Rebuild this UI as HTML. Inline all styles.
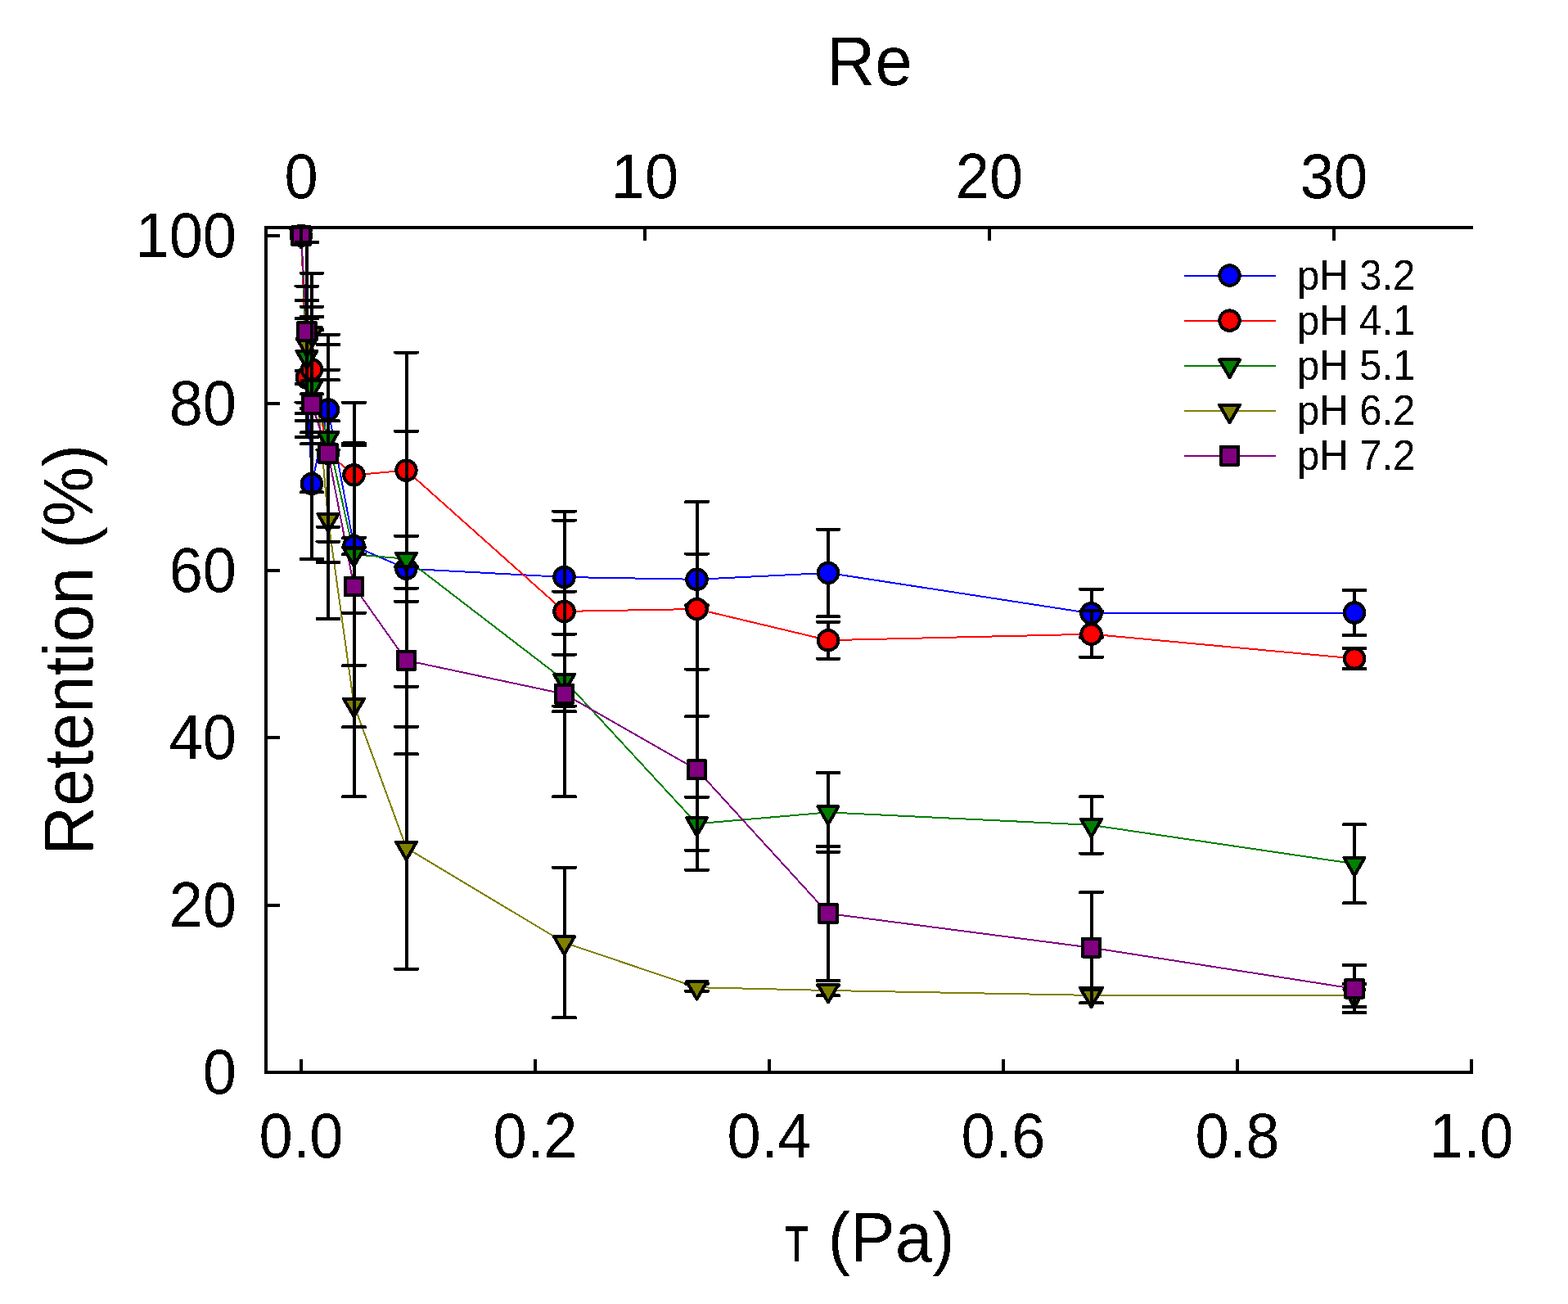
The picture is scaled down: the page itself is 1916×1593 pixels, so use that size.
<!DOCTYPE html>
<html><head><meta charset="utf-8"><title>Retention vs shear stress</title>
<style>
html,body{margin:0;padding:0;background:#fff;}
svg{display:block;}
#data,#axes,#legend{shape-rendering:crispEdges;}
text{font-family:"Liberation Sans",Arial,sans-serif;fill:#000;}
.tk{font-size:74px;}
.ti{font-size:82px;}
.lg{font-size:49px;}
text.tau{font-family:"WenQuanYi Zen Hei","Liberation Sans",sans-serif;}
.m circle,.m rect,.m path:not(.ln){stroke:#000;stroke-width:4;stroke-linejoin:round;}
.m path.eb{stroke-width:4;fill:none;}
path.ln{fill:none;stroke-width:2;}
.m path.cap{stroke-width:4;stroke-linecap:round;fill:none;}
</style></head>
<body>
<svg width="1916" height="1593" viewBox="0 0 1916 1593">
<rect width="1916" height="1593" fill="#fff"/>
<g id="data">
<path d="M368 288 L375 461 L381 591 L401 500.5 L432.5 667 L496.5 694.7 L689.5 705 L851.5 707.8 L1012 699.9 L1333.5 749.3 L1655 748.5" class="ln" style="stroke:#0000FF"/>
<path d="M368 288 L375 461.5 L381 451.6 L401 554 L432.5 580.3 L496.5 574.6 L689.5 746.9 L851.5 744 L1012 782.2 L1333.5 774.65 L1655 804.5" class="ln" style="stroke:#FF0000"/>
<path d="M368 288 L375 436 L381 472.7 L401 535 L432.5 677.2 L496.5 682.8 L689.5 831 L851.5 1006.3 L1012 992.4 L1333.5 1007.9 L1655 1055.2" class="ln" style="stroke:#008000"/>
<path d="M368 288 L375 420.5 L381 407.5 L401 635.1 L432.5 860.9 L496.5 1035.8 L689.5 1151.5 L851.5 1206.2 L1012 1210 L1333.5 1215.9 L1655 1216" class="ln" style="stroke:#808000"/>
<path d="M368 288 L375 405 L381 494.1 L401 554 L432.5 716.3 L496.5 806.8 L689.5 847.8 L851.5 940.2 L1012 1116 L1333.5 1157.7 L1655 1207.9" class="ln" style="stroke:#800080"/>
<g class="m"><circle cx="368" cy="288" r="12.25" fill="#0000FF"/><path d="M375 453V469" class="eb"/><path d="M361.5 453H388.5M361.5 469H388.5" class="cap"/><circle cx="375" cy="461" r="12.25" fill="#0000FF"/><path d="M381 499V683" class="eb"/><path d="M367.5 499H394.5M367.5 683H394.5" class="cap"/><circle cx="381" cy="591" r="12.25" fill="#0000FF"/><path d="M401 451.5V549.5" class="eb"/><path d="M387.5 451.5H414.5M387.5 549.5H414.5" class="cap"/><circle cx="401" cy="500.5" r="12.25" fill="#0000FF"/><path d="M432.5 657V677" class="eb"/><path d="M419 657H446M419 677H446" class="cap"/><circle cx="432.5" cy="667" r="12.25" fill="#0000FF"/><path d="M496.5 654.7V734.7" class="eb"/><path d="M483 654.7H510M483 734.7H510" class="cap"/><circle cx="496.5" cy="694.7" r="12.25" fill="#0000FF"/><path d="M689.5 635.5V774.5" class="eb"/><path d="M676 635.5H703M676 774.5H703" class="cap"/><circle cx="689.5" cy="705" r="12.25" fill="#0000FF"/><path d="M851.5 676.5V739.1" class="eb"/><path d="M838 676.5H865M838 739.1H865" class="cap"/><circle cx="851.5" cy="707.8" r="12.25" fill="#0000FF"/><path d="M1012 646.6V753.2" class="eb"/><path d="M998.5 646.6H1025.5M998.5 753.2H1025.5" class="cap"/><circle cx="1012" cy="699.9" r="12.25" fill="#0000FF"/><path d="M1333.5 719.8V778.8" class="eb"/><path d="M1320 719.8H1347M1320 778.8H1347" class="cap"/><circle cx="1333.5" cy="749.3" r="12.25" fill="#0000FF"/><path d="M1655 721.1V775.9" class="eb"/><path d="M1641.5 721.1H1668.5M1641.5 775.9H1668.5" class="cap"/><circle cx="1655" cy="748.5" r="12.25" fill="#0000FF"/></g>
<g class="m"><circle cx="368" cy="288" r="12.25" fill="#FF0000"/><path d="M375 389V534" class="eb"/><path d="M361.5 389H388.5M361.5 534H388.5" class="cap"/><circle cx="375" cy="461.5" r="12.25" fill="#FF0000"/><path d="M381 374.8V528.4" class="eb"/><path d="M367.5 374.8H394.5M367.5 528.4H394.5" class="cap"/><circle cx="381" cy="451.6" r="12.25" fill="#FF0000"/><path d="M401 421V687" class="eb"/><path d="M387.5 421H414.5M387.5 687H414.5" class="cap"/><circle cx="401" cy="554" r="12.25" fill="#FF0000"/><path d="M432.5 491.7V668.9" class="eb"/><path d="M419 491.7H446M419 668.9H446" class="cap"/><circle cx="432.5" cy="580.3" r="12.25" fill="#FF0000"/><path d="M496.5 430.6V718.6" class="eb"/><path d="M483 430.6H510M483 718.6H510" class="cap"/><circle cx="496.5" cy="574.6" r="12.25" fill="#FF0000"/><path d="M689.5 624.5V869.3" class="eb"/><path d="M676 624.5H703M676 869.3H703" class="cap"/><circle cx="689.5" cy="746.9" r="12.25" fill="#FF0000"/><path d="M851.5 613V875" class="eb"/><path d="M838 613H865M838 875H865" class="cap"/><circle cx="851.5" cy="744" r="12.25" fill="#FF0000"/><path d="M1012 759.8V804.6" class="eb"/><path d="M998.5 759.8H1025.5M998.5 804.6H1025.5" class="cap"/><circle cx="1012" cy="782.2" r="12.25" fill="#FF0000"/><path d="M1333.5 746.4V802.9" class="eb"/><path d="M1320 746.4H1347M1320 802.9H1347" class="cap"/><circle cx="1333.5" cy="774.65" r="12.25" fill="#FF0000"/><path d="M1655 792V817" class="eb"/><path d="M1641.5 792H1668.5M1641.5 817H1668.5" class="cap"/><circle cx="1655" cy="804.5" r="12.25" fill="#FF0000"/></g>
<g class="m"><path d="M355.5 280.78H380.5L368 302.43Z" fill="#008000"/><path d="M375 367V505" class="eb"/><path d="M361.5 367H388.5M361.5 505H388.5" class="cap"/><path d="M362.5 428.78H387.5L375 450.43Z" fill="#008000"/><path d="M381 403V542.4" class="eb"/><path d="M367.5 403H394.5M367.5 542.4H394.5" class="cap"/><path d="M368.5 465.48H393.5L381 487.13Z" fill="#008000"/><path d="M401 408.5V661.5" class="eb"/><path d="M387.5 408.5H414.5M387.5 661.5H414.5" class="cap"/><path d="M388.5 527.78H413.5L401 549.43Z" fill="#008000"/><path d="M432.5 541.4V813" class="eb"/><path d="M419 541.4H446M419 813H446" class="cap"/><path d="M420 669.98H445L432.5 691.63Z" fill="#008000"/><path d="M496.5 526.8V838.8" class="eb"/><path d="M483 526.8H510M483 838.8H510" class="cap"/><path d="M484 675.58H509L496.5 697.23Z" fill="#008000"/><path d="M689.5 799.5V862.5" class="eb"/><path d="M676 799.5H703M676 862.5H703" class="cap"/><path d="M677 823.78H702L689.5 845.43Z" fill="#008000"/><path d="M851.5 973.8V1038.8" class="eb"/><path d="M838 973.8H865M838 1038.8H865" class="cap"/><path d="M839 999.08H864L851.5 1020.73Z" fill="#008000"/><path d="M1012 944V1040.8" class="eb"/><path d="M998.5 944H1025.5M998.5 1040.8H1025.5" class="cap"/><path d="M999.5 985.18H1024.5L1012 1006.83Z" fill="#008000"/><path d="M1333.5 973.2V1042.6" class="eb"/><path d="M1320 973.2H1347M1320 1042.6H1347" class="cap"/><path d="M1321 1000.68H1346L1333.5 1022.33Z" fill="#008000"/><path d="M1655 1007.2V1103.2" class="eb"/><path d="M1641.5 1007.2H1668.5M1641.5 1103.2H1668.5" class="cap"/><path d="M1642.5 1047.98H1667.5L1655 1069.63Z" fill="#008000"/></g>
<g class="m"><path d="M355.5 280.78H380.5L368 302.43Z" fill="#808000"/><path d="M375 349.5V491.5" class="eb"/><path d="M361.5 349.5H388.5M361.5 491.5H388.5" class="cap"/><path d="M362.5 413.28H387.5L375 434.93Z" fill="#808000"/><path d="M381 333.8V481.2" class="eb"/><path d="M367.5 333.8H394.5M367.5 481.2H394.5" class="cap"/><path d="M368.5 400.28H393.5L381 421.93Z" fill="#808000"/><path d="M401 514.3V755.9" class="eb"/><path d="M387.5 514.3H414.5M387.5 755.9H414.5" class="cap"/><path d="M388.5 627.88H413.5L401 649.53Z" fill="#808000"/><path d="M432.5 748.7V973.1" class="eb"/><path d="M419 748.7H446M419 973.1H446" class="cap"/><path d="M420 853.68H445L432.5 875.33Z" fill="#808000"/><path d="M496.5 887.8V1183.8" class="eb"/><path d="M483 887.8H510M483 1183.8H510" class="cap"/><path d="M484 1028.58H509L496.5 1050.23Z" fill="#808000"/><path d="M689.5 1059.7V1243.3" class="eb"/><path d="M676 1059.7H703M676 1243.3H703" class="cap"/><path d="M677 1144.28H702L689.5 1165.93Z" fill="#808000"/><path d="M851.5 1201.7V1210.7" class="eb"/><path d="M838 1201.7H865M838 1210.7H865" class="cap"/><path d="M839 1198.98H864L851.5 1220.63Z" fill="#808000"/><path d="M1012 1203.6V1216.4" class="eb"/><path d="M998.5 1203.6H1025.5M998.5 1216.4H1025.5" class="cap"/><path d="M999.5 1202.78H1024.5L1012 1224.43Z" fill="#808000"/><path d="M1333.5 1206.5V1225.3" class="eb"/><path d="M1320 1206.5H1347M1320 1225.3H1347" class="cap"/><path d="M1321 1208.68H1346L1333.5 1230.33Z" fill="#808000"/><path d="M1655 1202V1230" class="eb"/><path d="M1641.5 1202H1668.5M1641.5 1230H1668.5" class="cap"/><path d="M1642.5 1208.78H1667.5L1655 1230.43Z" fill="#808000"/></g>
<g class="m"><rect x="357.2" y="277.2" width="21.6" height="21.6" fill="#800080"/><path d="M375 296.1V513.9" class="eb"/><path d="M361.5 296.1H388.5M361.5 513.9H388.5" class="cap"/><rect x="364.2" y="394.2" width="21.6" height="21.6" fill="#800080"/><path d="M381 387V601.2" class="eb"/><path d="M367.5 387H394.5M367.5 601.2H394.5" class="cap"/><rect x="370.2" y="483.3" width="21.6" height="21.6" fill="#800080"/><path d="M401 464.2V643.8" class="eb"/><path d="M387.5 464.2H414.5M387.5 643.8H414.5" class="cap"/><rect x="390.2" y="543.2" width="21.6" height="21.6" fill="#800080"/><path d="M432.5 544.45V888.15" class="eb"/><path d="M419 544.45H446M419 888.15H446" class="cap"/><rect x="421.7" y="705.5" width="21.6" height="21.6" fill="#800080"/><path d="M496.5 692.3V921.3" class="eb"/><path d="M483 692.3H510M483 921.3H510" class="cap"/><rect x="485.7" y="796" width="21.6" height="21.6" fill="#800080"/><path d="M689.5 722.5V973.1" class="eb"/><path d="M676 722.5H703M676 973.1H703" class="cap"/><rect x="678.7" y="837" width="21.6" height="21.6" fill="#800080"/><path d="M851.5 817.5V1062.9" class="eb"/><path d="M838 817.5H865M838 1062.9H865" class="cap"/><rect x="840.7" y="929.4" width="21.6" height="21.6" fill="#800080"/><path d="M1012 1034V1198" class="eb"/><path d="M998.5 1034H1025.5M998.5 1198H1025.5" class="cap"/><rect x="1001.2" y="1105.2" width="21.6" height="21.6" fill="#800080"/><path d="M1333.5 1090V1225.4" class="eb"/><path d="M1320 1090H1347M1320 1225.4H1347" class="cap"/><rect x="1322.7" y="1146.9" width="21.6" height="21.6" fill="#800080"/><path d="M1655 1178.9V1236.9" class="eb"/><path d="M1641.5 1178.9H1668.5M1641.5 1236.9H1668.5" class="cap"/><rect x="1644.2" y="1197.1" width="21.6" height="21.6" fill="#800080"/></g>
</g>
<g id="axes" fill="none" stroke="#000" stroke-width="4">
<path d="M325 278V1310M325 278H1798M325 1310H1798" stroke-linecap="square"/>
<path d="M327 1106H342M327 901H342M327 697H342M327 493H342M327 288H342M368 1308V1294M654 1308V1294M940 1308V1294M1226 1308V1294M1512 1308V1294M1798 1308V1294M368 280V294M788 280V294M1209 280V294M1630 280V294"/>
</g>
<defs><filter id="th" x="-0.1" y="-0.1" width="1.2" height="1.2" color-interpolation-filters="sRGB"><feComponentTransfer><feFuncA type="discrete" tableValues="0 1"/></feComponentTransfer></filter></defs>
<g id="labels" filter="url(#th)">
<text transform="translate(289 1336) scale(1 1.04)" text-anchor="end" class="tk">0</text>
<text transform="translate(289 1132) scale(1 1.04)" text-anchor="end" class="tk">20</text>
<text transform="translate(289 927) scale(1 1.04)" text-anchor="end" class="tk">40</text>
<text transform="translate(289 723) scale(1 1.04)" text-anchor="end" class="tk">60</text>
<text transform="translate(289 519) scale(1 1.04)" text-anchor="end" class="tk">80</text>
<text transform="translate(289 314) scale(1 1.04)" text-anchor="end" class="tk">100</text>
<text transform="translate(368 1414) scale(1 1.04)" text-anchor="middle" class="tk">0.0</text>
<text transform="translate(654 1414) scale(1 1.04)" text-anchor="middle" class="tk">0.2</text>
<text transform="translate(940 1414) scale(1 1.04)" text-anchor="middle" class="tk">0.4</text>
<text transform="translate(1226 1414) scale(1 1.04)" text-anchor="middle" class="tk">0.6</text>
<text transform="translate(1512 1414) scale(1 1.04)" text-anchor="middle" class="tk">0.8</text>
<text transform="translate(1798 1414) scale(1 1.04)" text-anchor="middle" class="tk">1.0</text>
<text transform="translate(368 242) scale(1 1.04)" text-anchor="middle" class="tk">0</text>
<text transform="translate(788 242) scale(1 1.04)" text-anchor="middle" class="tk">10</text>
<text transform="translate(1209 242) scale(1 1.04)" text-anchor="middle" class="tk">20</text>
<text transform="translate(1630 242) scale(1 1.04)" text-anchor="middle" class="tk">30</text>
<text transform="translate(1062.5 104) scale(1 1.05)" text-anchor="middle" class="ti">Re</text>
<text transform="translate(959 1541) scale(0.76 1.05)" class="ti tau">τ</text><text transform="translate(1011.7 1541) scale(1 1.05)" class="ti"> (Pa)</text>
<text transform="translate(113 793.5) rotate(-90) scale(1 1.05)" text-anchor="middle" class="ti">Retention (%)</text>
</g>
<g id="legend">
<path d="M1447 336.5H1559" class="ln" style="stroke:#0000FF"/>
<g class="m"><circle cx="1502.5" cy="336.5" r="12.25" fill="#0000FF"/></g>
<text filter="url(#th)" transform="translate(1585 353.7) scale(1 1.06)" class="lg">pH 3.2</text>
<path d="M1447 391.6H1559" class="ln" style="stroke:#FF0000"/>
<g class="m"><circle cx="1502.5" cy="391.6" r="12.25" fill="#FF0000"/></g>
<text filter="url(#th)" transform="translate(1585 408.8) scale(1 1.06)" class="lg">pH 4.1</text>
<path d="M1447 446.7H1559" class="ln" style="stroke:#008000"/>
<g class="m"><path d="M1490 439.48H1515L1502.5 461.13Z" fill="#008000"/></g>
<text filter="url(#th)" transform="translate(1585 463.9) scale(1 1.06)" class="lg">pH 5.1</text>
<path d="M1447 501.8H1559" class="ln" style="stroke:#808000"/>
<g class="m"><path d="M1490 494.58H1515L1502.5 516.23Z" fill="#808000"/></g>
<text filter="url(#th)" transform="translate(1585 519) scale(1 1.06)" class="lg">pH 6.2</text>
<path d="M1447 556.9H1559" class="ln" style="stroke:#800080"/>
<g class="m"><rect x="1491.7" y="546.1" width="21.6" height="21.6" fill="#800080"/></g>
<text filter="url(#th)" transform="translate(1585 574.1) scale(1 1.06)" class="lg">pH 7.2</text>
</g>
</svg>
</body></html>
